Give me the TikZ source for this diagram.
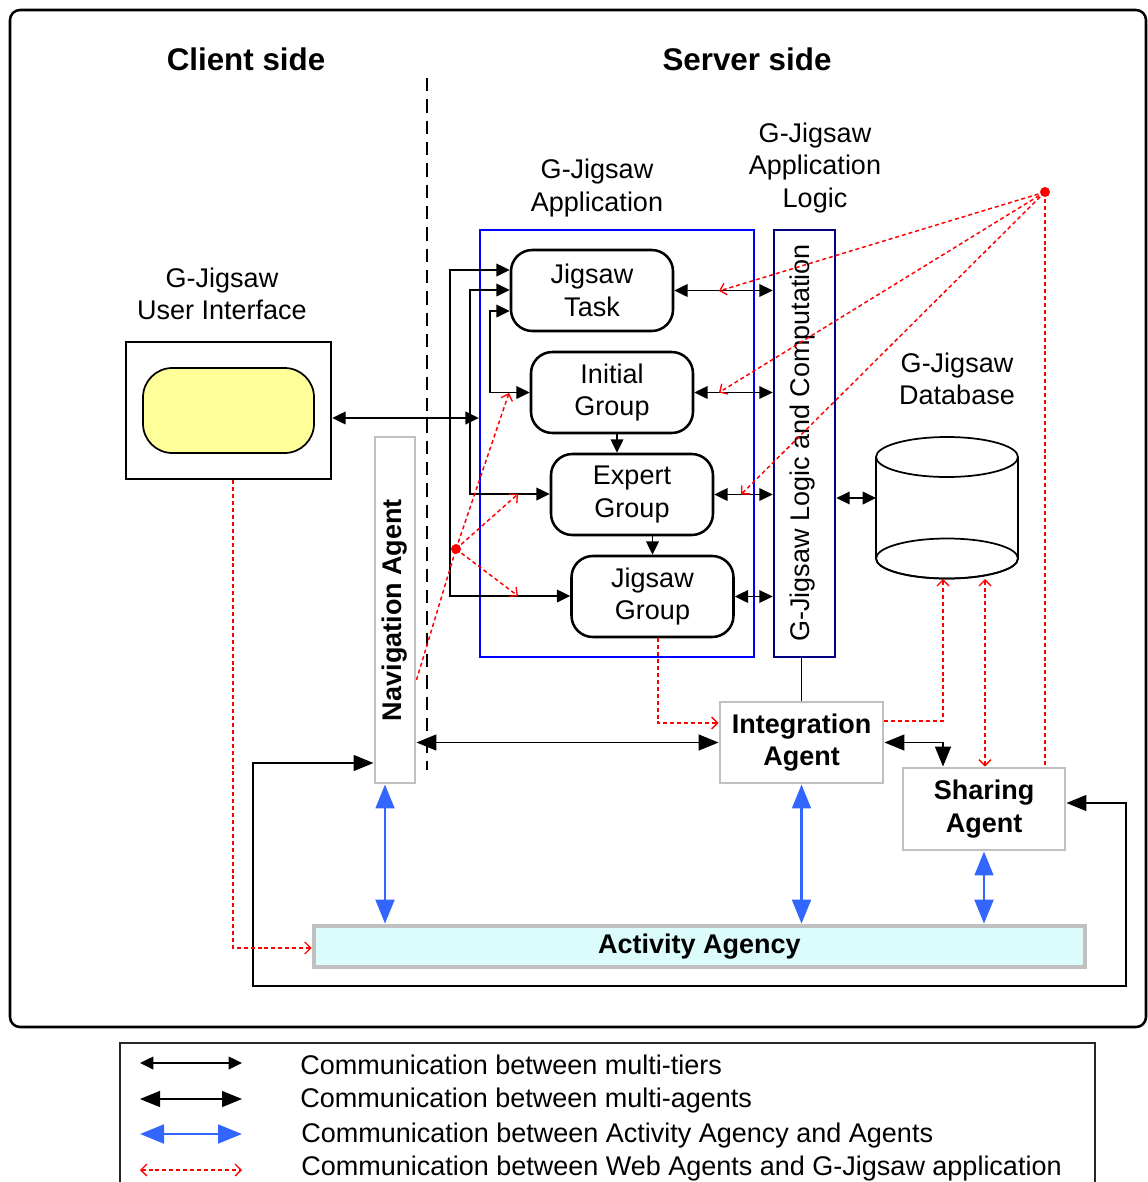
\documentclass[tikz,border=0pt]{standalone}
\usepackage{fontspec}
\setmainfont{Liberation Sans}
\usetikzlibrary{arrows.meta}
\definecolor{agentgray}{RGB}{192,192,192}
\definecolor{appblue}{RGB}{0,0,255}
\definecolor{logicnavy}{RGB}{0,0,128}
\definecolor{linkblue}{RGB}{51,102,255}
\definecolor{uiyellow}{RGB}{255,255,153}
\definecolor{agencycyan}{RGB}{220,251,251}
\definecolor{webred}{RGB}{255,0,0}
\tikzset{
  txt/.style={font=\fontsize{20.25}{24.4}\selectfont, align=center, inner sep=0pt},
  btxt/.style={font=\fontsize{20.25}{24.4}\selectfont\bfseries, align=center, inner sep=0pt},
  titletxt/.style={font=\fontsize{23.5}{28}\selectfont\bfseries, inner sep=0pt},
  stagebox/.style={draw=black, line width=1.9pt, rounded corners=16pt, fill=white,
    minimum width=121.5pt, minimum height=60.75pt, txt},
  agentbox/.style={draw=agentgray, line width=2.2pt, fill=white, btxt},
  tier/.style={line width=1.1pt, {Triangle[length=10pt,width=9.5pt]}-{Triangle[length=10pt,width=9.5pt]}},
  tierone/.style={line width=1.1pt, -{Triangle[length=10pt,width=9.5pt]}},
  agentlink/.style={line width=1.1pt, {Triangle[length=15pt,width=12pt]}-{Triangle[length=15pt,width=12pt]}},
  agencylink/.style={draw=linkblue, line width=2.2pt,
    {Triangle[length=18pt,width=14pt]}-{Triangle[length=18pt,width=14pt]}},
  weblink/.style={draw=webred, line width=1.1pt, dash pattern=on 3pt off 2.2pt},
  webtip/.style={weblink, -{Straight Barb[length=4.5pt,width=9pt,line width=1pt]}},
  webboth/.style={weblink, {Straight Barb[length=4.5pt,width=9pt,line width=1pt]}-{Straight Barb[length=4.5pt,width=9pt,line width=1pt]}},
  reddot/.style={circle, fill=webred, minimum size=7.5pt, inner sep=0pt},
}
\begin{document}
\begin{tikzpicture}[x=0.75pt,y=-0.75pt]
\useasboundingbox (0,0) rectangle (1148,1182);

% outer frame
\draw[line width=1.9pt, rounded corners=7.5pt] (10,10) rectangle (1146,1027);

% headings
\node[titletxt] (client) at (246,59) {Client side};
\node[titletxt] (server) at (747,59) {Server side};

% client / server boundary
\draw[line width=1.1pt, dash pattern=on 10pt off 6pt] (427,78) -- (427,770);

% labels
\node[txt] (uilabel) at (222,294) {G-Jigsaw\\User Interface};
\node[txt] (applabel) at (597,188) {G-Jigsaw\\Application};
\node[txt] (logiclabel) at (815,168) {G-Jigsaw\\Application\\Logic};
\node[txt] (dblabel) at (957,379) {G-Jigsaw\\Database};

% user interface
\node[draw=black, line width=1.9pt, fill=white, minimum width=153.75pt, minimum height=102.75pt, inner sep=0pt] (ui) at (228.5,410.5) {};
\node[draw=black, line width=1.3pt, fill=uiyellow, rounded corners=22pt, minimum width=128.25pt, minimum height=63.75pt, inner sep=0pt] (screen) at (228.5,410.5) {};

% application container and logic column
\node[draw=appblue, line width=1.8pt, minimum width=205.5pt, minimum height=320.25pt, inner sep=0pt] (app) at (617,443.5) {};
\node[draw=logicnavy, line width=2pt, minimum width=45.75pt, minimum height=320.25pt, inner sep=0pt] (logic) at (804.5,443.5) {};
\node[txt, rotate=90] (logictext) at (803,443) {G-Jigsaw Logic and Computation};

% application stages
\node[stagebox] (task) at (592,290.5) {Jigsaw\\Task};
\node[stagebox] (initial) at (612,392.5) {Initial\\Group};
\node[stagebox] (expert) at (632,494.5) {Expert\\Group};
\node[stagebox] (jgroup) at (652.5,596.5) {Jigsaw\\Group};

% database cylinder
\coordinate (dbw) at (876,498);
\coordinate (dbb1) at (943,579);
\coordinate (dbb2) at (985,579);
\draw[line width=1.3pt, fill=white] (876,457) -- (876,558.5) arc[start angle=180, end angle=360, x radius=53.25pt, y radius=15pt] -- (1018,457);
\draw[line width=1.3pt] (947,558.5) ellipse [x radius=53.25pt, y radius=15pt];
\draw[line width=1.3pt, fill=white] (947,457) ellipse [x radius=53.25pt, y radius=15pt];

% agents
\node[agentbox, minimum width=30pt, minimum height=259.5pt, inner sep=0pt] (nav) at (395,610) {};
\node[btxt, rotate=90] (navtext) at (395,610) {Navigation Agent};
\node[agentbox, minimum width=122.25pt, minimum height=60.75pt] (integ) at (801.5,742.5) {Integration\\Agent};
\node[agentbox, minimum width=121.5pt, minimum height=61.5pt] (share) at (984,809) {Sharing\\Agent};
\node[draw=agentgray, line width=3.5pt, fill=agencycyan, minimum width=578.25pt, minimum height=30.75pt, btxt] (agency) at (699.5,946.5) {Activity Agency};

% multi-tier links
\draw[tier] (ui.east |- 0,418) -- (app.west |- 0,418);
\draw[tier] (task.west |- 0,270) -- (450,270) -- (450,596) -- (jgroup.west |- 0,596);
\draw[tier] (task.west |- 0,290) -- (470,290) -- (470,494) -- (expert.west |- 0,494);
\draw[tier] (task.west |- 0,311) -- (490,311) -- (490,392.5) -- (initial.west);
\draw[tierone] (initial.south -| 617,0) -- (expert.north -| 617,0);
\draw[tierone] (expert.south -| 652.5,0) -- (jgroup.north);
\draw[tier] (task.east) -- (logic.west |- task.east);
\draw[tier] (initial.east) -- (logic.west |- initial.east);
\draw[tier] (expert.east) -- (logic.west |- expert.east);
\draw[tier] (jgroup.east) -- (logic.west |- jgroup.east);
\draw[tier] (logic.east |- dbw) -- (dbw);
\draw[line width=1.1pt] (integ.north) -- (integ.north |- logic.south);

% multi-agent links
\draw[agentlink] (nav.east |- integ.west) -- (integ.west);
\draw[agentlink] (integ.east) -| (share.north -| 943,0);
\draw[agentlink] (share.east |- 0,803) -- (1126,803) -- (1126,986) -- (253,986) -- (253,763) -- (nav.west |- 0,763);

% agency links
\draw[agencylink] (nav.south -| 385,0) -- (agency.north -| 385,0);
\draw[agencylink] (integ.south) -- (agency.north -| integ.south);
\draw[agencylink] (share.south) -- (agency.north -| share.south);

% web agent links
\node[reddot] (hubA) at (456,549) {};
\node[reddot] (hubB) at (1045,192) {};
\draw[weblink] (nav.east |- 0,680) -- (hubA.center);
\draw[webtip] (hubA.center) -- (509,393);
\draw[webtip] (hubA.center) -- (518,494);
\draw[webtip] (hubA.center) -- (518,596);
\draw[webtip] (hubB.center) -- (719,291);
\draw[webtip] (hubB.center) -- (719,392.5);
\draw[webtip] (hubB.center) -- (741,494.5);
\draw[weblink] (hubB.center) -- (share.north -| hubB);
\draw[webtip] (ui.south -| 233,0) -- (233,948) -- (agency.west |- 0,948);
\draw[webtip] (jgroup.south -| 658,0) -- (658,723) -- (integ.west |- 0,723);
\draw[webtip] (integ.east |- 0,721) -- (943,721) -- (dbb1);
\draw[webboth] (dbb2) -- (share.north -| dbb2);

% legend
\draw[line width=1.1pt, draw=black!85] (120,1190) -- (120,1043) -- (1095,1043) -- (1095,1190);
\coordinate (l1a) at (140,1063); \coordinate (l1b) at (242,1063);
\coordinate (l2a) at (140,1099); \coordinate (l2b) at (242,1099);
\coordinate (l3a) at (140,1134); \coordinate (l3b) at (242,1134);
\coordinate (l4a) at (140,1170); \coordinate (l4b) at (242,1170);
\draw[tier] (l1a) -- (l1b);
\draw[agentlink] (l2a) -- (l2b);
\draw[agencylink] (l3a) -- (l3b);
\draw[webboth] (l4a) -- (l4b);
\node[txt, anchor=west] (t1) at (300,1065) {Communication between multi-tiers};
\node[txt, anchor=west] (t2) at (300,1101) {Communication between multi-agents};
\node[txt, anchor=west] (t3) at (301,1136) {Communication between Activity Agency and Agents};
\node[txt, anchor=west] (t4) at (301,1169) {Communication between Web Agents and G-Jigsaw application};
\end{tikzpicture}
\end{document}
